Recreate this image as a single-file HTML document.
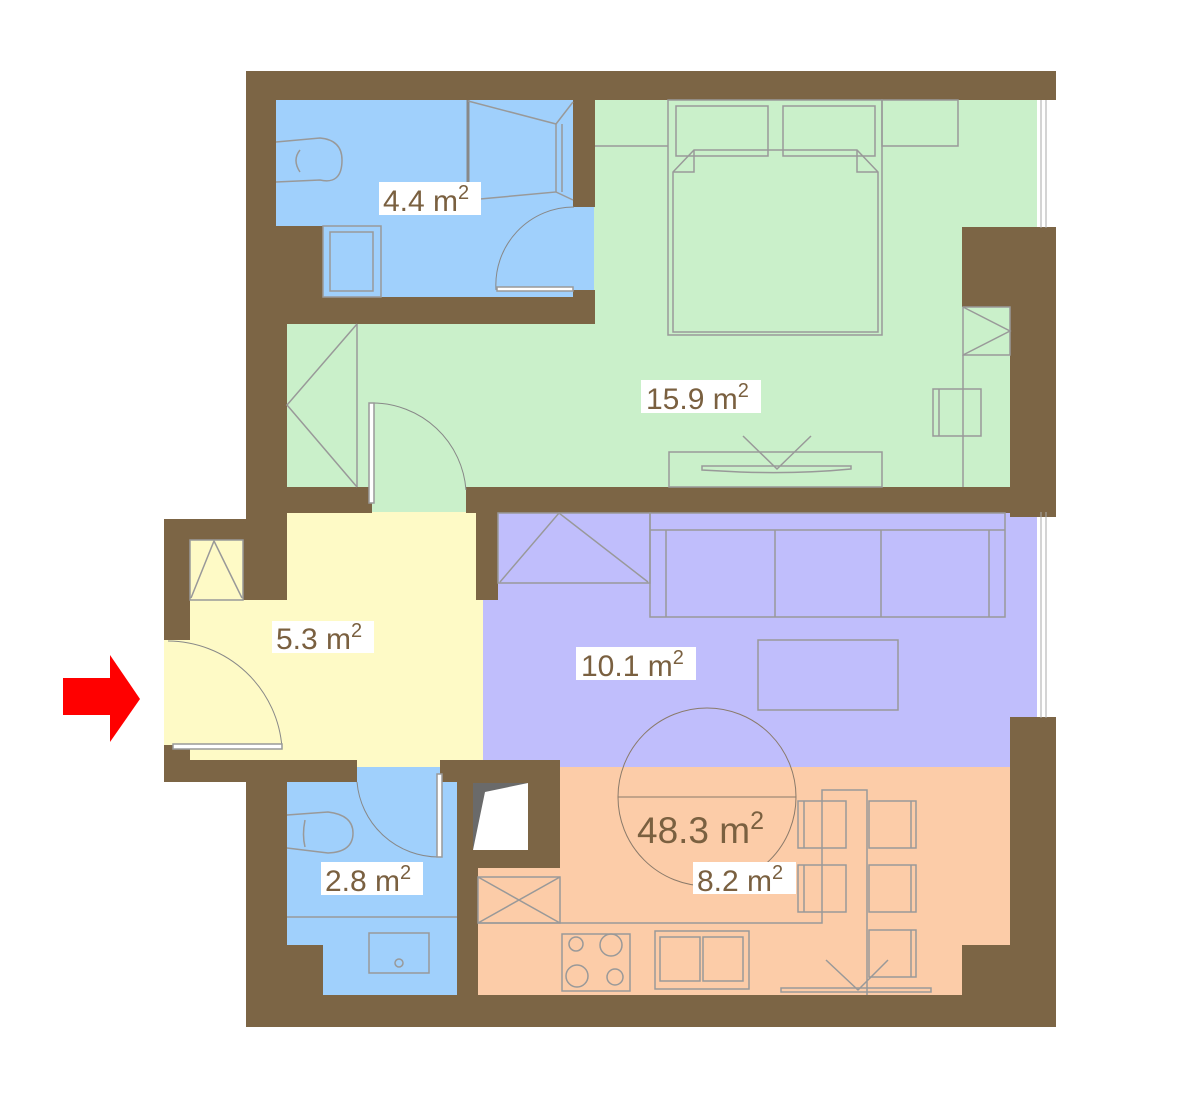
<!DOCTYPE html>
<html><head><meta charset="utf-8"><style>
html,body{margin:0;padding:0;background:#fff;}
svg{display:block;}
text{font-family:"Liberation Sans",sans-serif;fill:#7A6040;}
</style></head><body>
<svg width="1185" height="1102" viewBox="0 0 1185 1102" xmlns="http://www.w3.org/2000/svg">
<!-- floors -->
<rect x="276" y="100" width="318" height="197" fill="#A0D0FC"/>
<rect x="594" y="100" width="444" height="388" fill="#CAF0CA"/>
<rect x="286" y="320" width="310" height="168" fill="#CAF0CA"/>
<rect x="370" y="486" width="100" height="30" fill="#CAF0CA"/>
<rect x="287" y="512" width="196" height="256" fill="#FEFAC6"/>
<rect x="188" y="538" width="100" height="230" fill="#FEFAC6"/>
<rect x="164" y="638" width="30" height="110" fill="#FEFAC6"/>
<rect x="483" y="512" width="555" height="256" fill="#C0BEFC"/>
<rect x="478" y="767" width="534" height="230" fill="#FCCCA8"/>
<rect x="287" y="767" width="172" height="230" fill="#A0D0FC"/>
<rect x="1037" y="100" width="19" height="128" fill="#fff"/>
<rect x="1037" y="512" width="19" height="206" fill="#fff"/>
<g fill="#7C6545">
<rect x="246" y="71" width="810" height="29"/>
<rect x="246" y="71" width="30" height="450"/>
<rect x="246" y="297" width="41" height="225"/>
<rect x="276" y="226" width="47" height="72"/>
<rect x="573" y="100" width="22" height="107"/>
<rect x="573" y="290" width="22" height="34"/>
<rect x="286" y="297" width="309" height="27"/>
<rect x="962" y="227" width="76" height="80"/>
<rect x="1010" y="227" width="46" height="290"/>
<rect x="286" y="487" width="86" height="26"/>
<rect x="466" y="487" width="590" height="26"/>
<rect x="476" y="510" width="22" height="90"/>
<rect x="1010" y="717" width="46" height="310"/>
<rect x="962" y="945" width="50" height="52"/>
<rect x="246" y="995" width="810" height="32"/>
<rect x="164" y="519" width="123" height="21"/>
<rect x="164" y="519" width="26" height="121"/>
<rect x="243" y="519" width="44" height="81"/>
<rect x="164" y="745" width="26" height="37"/>
<rect x="164" y="760" width="123" height="22"/>
<rect x="246" y="760" width="41" height="267"/>
<rect x="287" y="760" width="70" height="22"/>
<rect x="440" y="760" width="120" height="22"/>
<rect x="287" y="945" width="36" height="52"/>
<rect x="457" y="760" width="21" height="237"/>
<rect x="460" y="762" width="100" height="106"/>
</g>
<rect x="473" y="783" width="55" height="67" fill="#fff"/>
<polygon points="473,783 528,783 485,792 473,850" fill="#6A6A6A"/>
<g stroke="#aaa" stroke-width="1" fill="none">
<line x1="1041" y1="100" x2="1041" y2="228"/><line x1="1046" y1="100" x2="1046" y2="228"/>
<line x1="1041" y1="512" x2="1041" y2="718"/><line x1="1046" y1="512" x2="1046" y2="718"/>
</g>
<g stroke="#999" stroke-width="1.5" fill="none">
<path d="M276,182 L320,180 Q342,185 342,160 Q342,140 320,138 L276,142"/>
<path d="M300,150 Q292,160 300,172"/>
<rect x="323" y="226" width="58" height="71"/>
<rect x="330" y="232" width="43" height="59"/>
<path d="M468,100 L468,200" stroke="#888" stroke-width="3"/>
<path d="M468,101 L556,124 L556,192 L480,199"/>
<line x1="562" y1="124" x2="562" y2="192"/>
<line x1="556" y1="124" x2="573" y2="102"/><line x1="556" y1="192" x2="573" y2="200"/>
<path d="M496,290 A78,78 0 0 1 574,207" stroke="#888" stroke-width="1"/>
<rect x="497" y="287" width="76" height="4" fill="#fff"/>
<line x1="595" y1="146" x2="668" y2="146"/>
<rect x="668" y="100" width="214" height="235"/>
<rect x="676" y="106" width="92" height="50"/>
<rect x="783" y="106" width="92" height="50"/>
<path d="M673,172 L694,150 L857,150 L878,172 L878,332 L673,332 Z"/>
<path d="M673,172 L694,172 L694,150 M878,172 L857,172 L857,150"/>
<rect x="882" y="100" width="76" height="46"/>
<rect x="963" y="307" width="47" height="48"/>
<path d="M963,307 L1010,331 L963,355"/>
<line x1="963" y1="355" x2="963" y2="487"/>
<rect x="933" y="389" width="48" height="47"/>
<line x1="939" y1="389" x2="939" y2="436"/>
<rect x="669" y="452" width="213" height="35"/>
<path d="M743,436 L777,469 L811,436"/>
<path d="M702,466 L851,466 L851,469 Q800,474 740,472 L702,470 Z"/>
<line x1="357" y1="324" x2="357" y2="487"/>
<path d="M357,324 L287,405 L357,487"/>
<path d="M373,403 A94,94 0 0 1 466,490" stroke="#888" stroke-width="1"/>
<rect x="369" y="403" width="5" height="100" fill="#fff"/>
<rect x="190" y="540" width="53" height="60"/>
<path d="M191,598 L214,541 L242,598"/>
<path d="M168,641 A115,115 0 0 1 282,748" stroke="#888" stroke-width="1"/>
<rect x="173" y="744" width="109" height="5" fill="#fff"/>
<path d="M287,815 L328,812 Q353,815 353,833 Q353,852 328,853 L287,848"/>
<path d="M305,820 Q302,835 305,847"/>
<line x1="287" y1="917" x2="457" y2="917"/>
<rect x="369" y="933" width="60" height="40"/>
<circle cx="399" cy="963" r="4"/>
<path d="M357,782 A82,82 0 0 0 439,857" stroke="#888" stroke-width="1"/>
<rect x="437" y="774" width="5" height="83" fill="#fff"/>
<rect x="498" y="513" width="152" height="70"/>
<path d="M500,582 L559,513 L648,582"/>
<rect x="650" y="513" width="355" height="104"/>
<line x1="650" y1="530" x2="1005" y2="530"/>
<line x1="666" y1="530" x2="666" y2="617"/><line x1="775" y1="530" x2="775" y2="617"/>
<line x1="881" y1="530" x2="881" y2="617"/><line x1="989" y1="530" x2="989" y2="617"/>
<rect x="758" y="640" width="140" height="70"/>
<circle cx="707" cy="797" r="89" stroke="#8a7a6a" stroke-width="1"/>
<line x1="618" y1="797" x2="796" y2="797" stroke="#8a7a6a" stroke-width="1"/>
<rect x="478" y="877" width="82" height="46"/>
<path d="M478,877 L560,923 M560,877 L478,923"/>
<path d="M478,923 L822,923 L822,790 L867,790 L867,995"/>
<rect x="562" y="934" width="68" height="57"/>
<circle cx="576" cy="944" r="7"/><circle cx="611" cy="945" r="11"/>
<circle cx="577" cy="976" r="11"/><circle cx="615" cy="977" r="8"/>
<rect x="655" y="931" width="94" height="58"/>
<rect x="660" y="937" width="40" height="44"/><rect x="703" y="937" width="40" height="44"/>
<rect x="798" y="801" width="48" height="47"/><line x1="804" y1="801" x2="804" y2="848"/>
<rect x="869" y="801" width="47" height="47"/><line x1="911" y1="801" x2="911" y2="848"/>
<rect x="798" y="865" width="48" height="47"/><line x1="804" y1="865" x2="804" y2="912"/>
<rect x="869" y="865" width="47" height="47"/><line x1="911" y1="865" x2="911" y2="912"/>
<rect x="869" y="930" width="47" height="47"/><line x1="911" y1="930" x2="911" y2="977"/>
<path d="M826,960 L858,990 L888,960"/>
<rect x="781" y="988" width="150" height="4"/>
</g>
<g>
<rect x="379" y="182" width="102" height="33" fill="#fff"/>
<text x="383" y="211" font-size="30">4.4 m<tspan font-size="20" dy="-12">2</tspan></text>
<rect x="641" y="380" width="120" height="33" fill="#fff"/>
<text x="646" y="409" font-size="30">15.9 m<tspan font-size="20" dy="-12">2</tspan></text>
<rect x="272" y="621" width="102" height="32" fill="#fff"/>
<text x="276" y="649" font-size="30">5.3 m<tspan font-size="20" dy="-12">2</tspan></text>
<rect x="576" y="647" width="120" height="33" fill="#fff"/>
<text x="581" y="676" font-size="30">10.1 m<tspan font-size="20" dy="-12">2</tspan></text>
<text x="637" y="843" font-size="37">48.3 m<tspan font-size="25" dy="-14">2</tspan></text>
<rect x="693" y="862" width="103" height="32" fill="#fff"/>
<text x="697" y="891" font-size="30">8.2 m<tspan font-size="20" dy="-12">2</tspan></text>
<rect x="321" y="862" width="102" height="33" fill="#fff"/>
<text x="325" y="891" font-size="30">2.8 m<tspan font-size="20" dy="-12">2</tspan></text>
</g>
<rect x="63" y="678" width="48" height="37" fill="#FF0000"/>
<polygon points="110,655 140,699 110,742" fill="#FF0000"/>
</svg>
</body></html>
